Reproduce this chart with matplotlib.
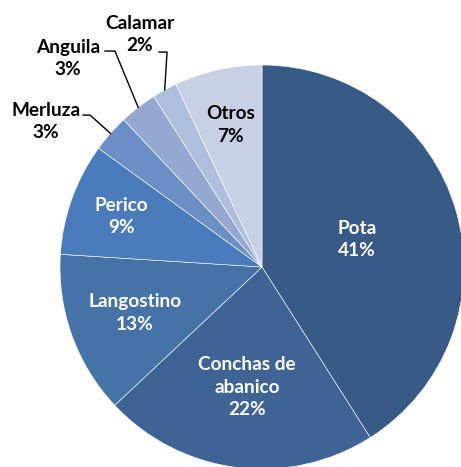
import numpy as np
import matplotlib
matplotlib.use('Agg')
import matplotlib.pyplot as plt

# data
species = ['Pota', 'Conchas de\nabanico', 'Langostino', 'Perico', 'Merluza', 'Anguila', 'Calamar', 'Otros']
shares = [41, 22, 13, 9, 3, 3, 2, 7]

colors = ['#385A87', '#3E6496', '#4572A7', '#4A7BBA', '#6A8EC6', '#94A8D2', '#AEBFDD', '#C7D0E5']

# label placement: radius for labels inside the slice, None for outside ones
inside_r = [0.49, 0.60, 0.67, 0.74, None, None, None, 0.72]
inside_color = ['white', 'white', 'white', 'white', None, None, None, 'black']
# outside labels: text centre, elbow of the leader, end of the leader
outside = {
    'Merluza': ((-1.069, 0.720), (-0.851, 0.752), (-0.886, 0.752)),
    'Anguila': ((-0.960, 1.032), (-0.728, 1.069), (-0.777, 1.069)),
    'Calamar': ((-0.604, 1.150), (-0.470, 1.064), (-0.510, 1.064)),
}

plt.rcParams['font.family'] = ['Lato', 'DejaVu Sans']

fig = plt.figure(figsize=(4.61, 4.67), dpi=100)
ax = fig.add_axes([0, 0, 1, 1])

wedges, _ = ax.pie(shares, colors=colors, startangle=90, counterclock=False,
                   wedgeprops=dict(edgecolor='white', linewidth=0.4))

for i, w in enumerate(wedges):
    mid = np.deg2rad((w.theta1 + w.theta2) / 2)
    label = species[i] + '\n' + str(shares[i]) + '%'
    if inside_r[i] is not None:
        r = inside_r[i]
        ax.text(r * np.cos(mid), r * np.sin(mid), label, ha='center', va='center',
                fontsize=13.7, fontweight='bold', color=inside_color[i], linespacing=1.4)
    else:
        txt, elbow, end = outside[species[i]]
        ax.text(txt[0], txt[1], label, ha='center', va='center',
                fontsize=13.7, fontweight='bold', color='black', linespacing=1.4)
        ax.plot([np.cos(mid), elbow[0], end[0]], [np.sin(mid), elbow[1], end[1]],
                color='black', linewidth=1)

ax.set_xlim(-262 / 202, (461 - 262) / 202)
ax.set_ylim(-(467 - 267) / 202, 267 / 202)
ax.set_aspect('equal')
ax.axis('off')

fig.savefig('out.png', dpi=100)
